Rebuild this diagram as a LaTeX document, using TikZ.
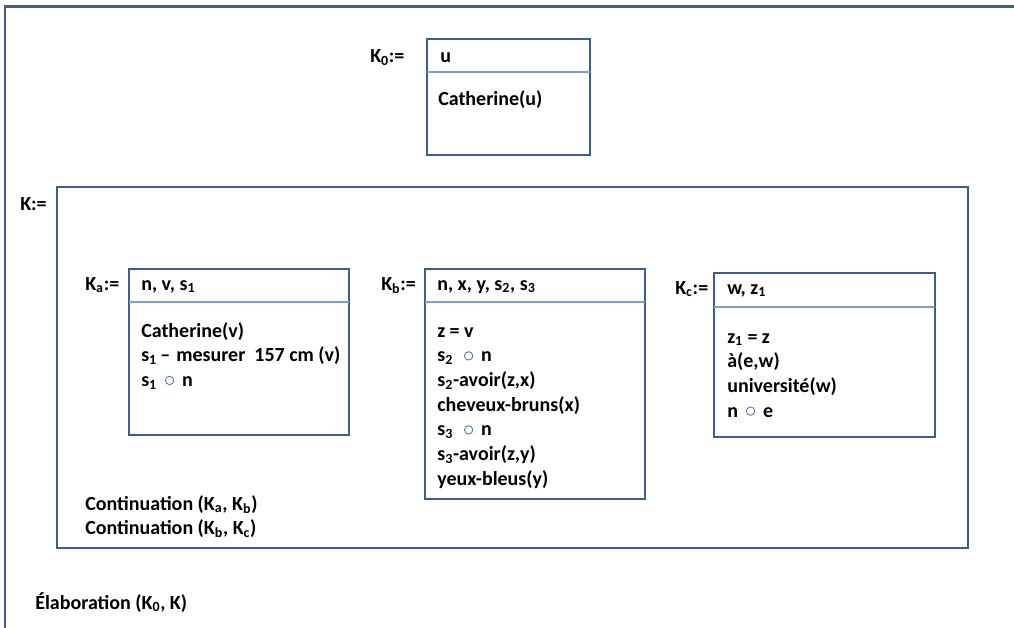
\documentclass[tikz,border=0pt]{standalone}
\usepackage{fontspec}
\setmainfont{Carlito}
\definecolor{framecol}{HTML}{3B5E8C}
\definecolor{sepcol}{HTML}{7F9FCB}
\definecolor{circcol}{HTML}{4A6E9E}
\newcommand\compo{\hspace{0.4em}\tikz[baseline=0pt]\draw[circcol,line width=0.6pt] (0,0.3em) circle (0.21em);\hspace{0.4em}}
\tikzset{
  box/.style={draw=framecol,line width=1.6pt},
  sepline/.style={draw=sepcol,line width=0.8pt},
  txt/.style={anchor=base west,inner sep=0pt,font=\fontsize{15}{18.5}\selectfont\bfseries,align=left}
}
\begin{document}
\begin{tikzpicture}[x=0.75pt,y=-0.75pt]
\useasboundingbox (0,0) rectangle (1014,628);
% outer frame
\draw[box] (5,640) -- (5,6.5) -- (1020,6.5);
% K0
\draw[box] (427,39) rectangle (590,155);
\draw[sepline] (427,72) -- (590,72);
\node[txt] (k0lab) at (370,62.5) {K\textsubscript{0}:=};
\node[txt] (k0head) at (440,62) {u};
\node[txt] (k0body) at (438,105) {Catherine(u)};
% K
\draw[box] (57,187) rectangle (968,548);
\node[txt] (klab) at (20,210) {K:=};
% Ka
\draw[box] (129,269) rectangle (349,435);
\draw[sepline] (129,302) -- (349,302);
\node[txt] (kalab) at (85,290) {K\textsubscript{a}:=};
\node[txt] (kahead) at (141,290) {n, v, s\textsubscript{1}};
\node[txt] (kabody) at (141,386.4) {Catherine(v)\\ s\textsubscript{1}\,--\hspace{0.3em}mesurer\hspace{0.45em}157 cm (v)\\ s\textsubscript{1}\compo n};
% Kb
\draw[box] (425,269) rectangle (645,499);
\draw[sepline] (425,302) -- (645,302);
\node[txt] (kblab) at (381,290) {K\textsubscript{b}:=};
\node[txt] (kbhead) at (437,290) {n, x, y, s\textsubscript{2}, s\textsubscript{3}};
\node[txt] (kbbody) at (437,485.2) {z = v\\ s\textsubscript{2}\hspace{0.15em}\compo n\\ s\textsubscript{2}-avoir(z,x)\\ cheveux-bruns(x)\\ s\textsubscript{3}\hspace{0.15em}\compo n\\ s\textsubscript{3}-avoir(z,y)\\ yeux-bleus(y)};
% Kc
\draw[box] (714,273) rectangle (935,437);
\draw[sepline] (714,307) -- (935,307);
\node[txt] (kclab) at (675,294) {K\textsubscript{c}:=};
\node[txt] (kchead) at (727,294) {w, z\textsubscript{1}};
\node[txt] (kcbody) at (727,417.1) {z\textsubscript{1} = z\\ à(e,w)\\ université(w)\\ n\compo e};
% relations
\node[txt] (cont) at (85,534.7) {Continuation (K\textsubscript{a}, K\textsubscript{b})\\ Continuation (K\textsubscript{b}, K\textsubscript{c})};
\node[txt] (elab) at (35,609) {Élaboration (K\textsubscript{0}, K)};
\end{tikzpicture}
\end{document}
